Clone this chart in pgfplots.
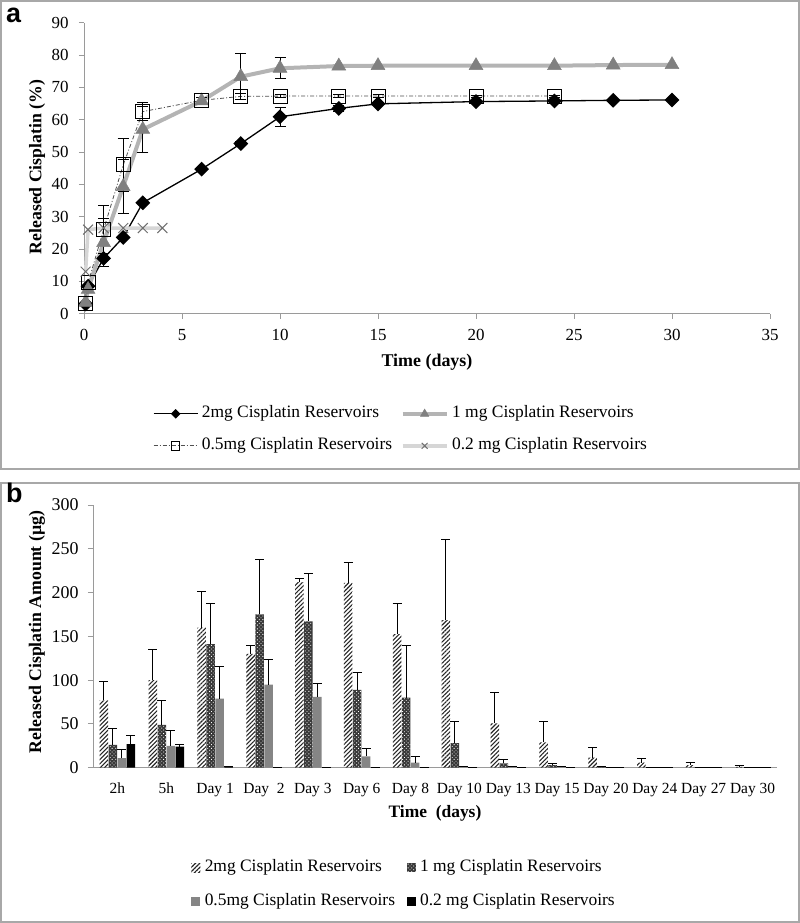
\documentclass[border=0pt]{standalone}
\usepackage{fontspec}
\setmainfont{Liberation Serif}
\newfontfamily\labfont{Liberation Sans}
\usepackage{pgfplots}
\usepackage{pgfplotstable}
\pgfplotsset{compat=1.18}
\usetikzlibrary{patterns,patterns.meta}
\definecolor{framegray}{HTML}{A8A8A8}
\definecolor{axgray}{HTML}{9A9A9A}
\definecolor{tri}{HTML}{808080}
\definecolor{triline}{HTML}{B4B4B4}
\definecolor{xline}{HTML}{D6D6D6}
\definecolor{xmark}{HTML}{6E6E6E}
\definecolor{barmid}{HTML}{858585}
\definecolor{dashline}{HTML}{505050}

% ---------- panel a data ----------
\pgfplotstableread{
x y
0.083 3.0
0.208 8.5
1 17.1
2 23.6
3 34.3
6 44.7
8 52.6
10 60.9
13 63.5
15 64.9
20 65.6
24 65.8
27 66.0
30 66.1
}\twomg
\pgfplotstableread{
x y
0.083 3.5
0.208 7.5
1 22.0
2 39.3
3 57.0
6 65.8
8 73.3
10 75.9
13 76.6
15 76.7
20 76.7
24 76.7
27 76.9
30 77.0
}\onemg
\pgfplotstableread{
x y
0.083 3.2
0.208 9.5
1 26.0
2 46.0
3 62.5
6 66.0
8 67.2
10 67.3
13 67.3
15 67.3
20 67.3
24 67.3
}\halfmg
\pgfplotstableread{
x y
0.083 13.0
0.208 26.0
1 26.5
2 26.5
3 26.5
4 26.5
}\fifthmg
\pgfplotstableread{
x y e
8 52.6 0.6
10 60.9 3.0
13 63.5 1.0
}\twomgerr
\pgfplotstableread{
x y e
1 22.0 7.5
2 39.3 8.3
3 57.0 7.0
8 73.3 7.2
10 75.9 3.3
}\onemgerr
\pgfplotstableread{
x y e
1 26.0 7.5
2 46.0 8.2
3 62.5 2.7
6 66.0 0.8
8 67.2 1.0
10 67.3 0.4
13 67.3 0.4
15 67.3 0.4
20 67.3 0.3
24 67.3 0.3
}\halfmgerr

% ---------- panel b data ----------
\pgfplotstableread{
x a ea b eb c ec d ed
0 77 21 26 19 11 10 27 10
1 100 35 49 28 25 17 24 3
2 160 41 141 46 79 37 1 0
3 130 10 175 63 95 29 0.5 0
4 212 4 167 55 81 15 0.5 0
5 211 23 89 20 13 9 0.5 0
6 152.5 35.5 80 60 5.7 7 0 0
7 168.5 92.5 28 24.5 1 0 0 0
8 50.5 35 5 4 1 0 0 0
9 29 23.5 3 1.5 1 0 0 0
10 11.4 11.6 1.5 0 0.5 0 0 0
11 5.7 4.3 0.5 0 0.3 0 0 0
12 3 2.7 0.3 0 0.2 0 0 0
13 1 1.7 0.3 0 0.2 0 0 0
}\bars

\pgfplotsset{
  errA/.style={draw=none, mark=none, forget plot,
    error bars/.cd, y dir=both, y explicit,
    error bar style={draw=black, solid, line width=1bp},
    error mark options={rotate=90, draw=black, solid, line width=1bp, mark size=5.5bp}},
  errB/.style={error bars/.cd, y dir=plus, y explicit,
    error bar style={draw=black, solid, line width=1bp},
    error mark options={rotate=90, draw=black, solid, line width=1bp, mark size=4.5bp}},
  barleg/.style={legend image code/.code={\path[##1] (0bp,-4.5bp) rectangle (9bp,4.5bp);}},
}

\begin{document}
\begin{tikzpicture}[x=1bp,y=1bp]
\path[use as bounding box] (0bp,0bp) rectangle (800bp,923bp);
\draw[framegray, line width=2bp] (1bp,454bp) rectangle (799bp,922bp);
\draw[framegray, line width=2bp] (1bp,1bp) rectangle (799bp,440bp);
\node[anchor=base west, inner sep=0pt, font=\labfont\fontsize{27}{27}\selectfont\bfseries] at (6bp,900bp) {a};
\node[anchor=base west, inner sep=0pt, font=\labfont\fontsize{27}{27}\selectfont\bfseries] at (6bp,420bp) {b};

% ================= panel a =================
\begin{axis}[
  at={(84bp,609.3bp)}, anchor=south west,
  scale only axis, width=686bp, height=291bp,
  xmin=0, xmax=35, ymin=0, ymax=90,
  xtick={0,5,...,35}, ytick={0,10,...,90},
  axis lines=left, axis line style={-, axgray, line width=1bp},
  tick style={axgray, line width=1bp}, tick align=outside, major tick length=5bp,
  /pgf/number format/assume math mode=true,
  tick label style={font=\fontsize{17}{17}\selectfont},
  xticklabel style={yshift=-7bp},
  yticklabel style={xshift=-7bp},
  clip=false,
  xlabel={Time (days)},
  xlabel style={at={(axis description cs:0.5,-0.166)}, anchor=center, font=\fontsize{18}{18}\selectfont\bfseries},
  ylabel={Released Cisplatin (\%)},
  ylabel style={at={(axis description cs:-0.0685,0.504)}, anchor=center, font=\fontsize{17.8}{17.8}\selectfont\bfseries},
  legend columns=2,
  legend cell align=left,
  legend style={draw=none, fill=none, at={(axis description cs:0.096,-0.304)}, anchor=north west,
    font=\fontsize{17.5}{17.5}\selectfont, row sep=13bp,
    nodes={inner sep=1.5bp, text height=12bp, text depth=4bp},
    /tikz/every odd column/.append style={column sep=2bp},
    /tikz/every even column/.append style={column sep=7bp}},
  legend image code/.code={\draw[#1, /tikz/every mark/.append style={scale=0.6}, mark repeat=2, mark phase=2] plot coordinates {(0bp,0bp) (22bp,0bp) (44bp,0bp)};},
]
\addplot[black, line width=1.3bp, mark=square*, mark size=4.6bp, mark options={rotate=45, fill=black, solid}] table[x=x,y=y]{\twomg};
\addlegendentry{2mg Cisplatin Reservoirs}
\addplot[triline, line width=4bp, mark=triangle*, mark size=8bp, mark options={fill=tri, draw=tri, line width=0.5bp, solid}] table[x=x,y=y]{\onemg};
\addlegendentry{1 mg Cisplatin Reservoirs}
\addplot[dashline, line width=0.8bp, dash pattern=on 4bp off 2bp on 1bp off 2bp, mark=square, mark size=7bp, mark options={draw=black, fill=white, line width=1bp, solid}] table[x=x,y=y]{\halfmg};
\addlegendentry{0.5mg Cisplatin Reservoirs}
\addplot[xline, line width=3.5bp, mark=x, mark size=7bp, mark options={draw=xmark, line width=1bp, solid}] table[x=x,y=y]{\fifthmg};
\addlegendentry{0.2 mg Cisplatin Reservoirs}
\addplot[errA] table[x=x,y=y,y error=e]{\twomgerr};
\addplot[errA] table[x=x,y=y,y error=e]{\onemgerr};
\addplot[errA] table[x=x,y=y,y error=e]{\halfmgerr};
\end{axis}

% ================= panel b =================
\begin{axis}[
  at={(93bp,155.3bp)}, anchor=south west,
  scale only axis, width=684bp, height=262.7bp,
  xmin=-0.5, xmax=13.5, ymin=0, ymax=300,
  ytick={0,50,...,300},
  xtick={0,1,...,13},
  xticklabels={2h,5h,Day 1,Day\ \ 2,Day 3,Day 6,Day 8,Day 10,Day 13,Day 15,Day 20,Day 24,Day 27,Day 30},
  minor xtick={-0.5,0.5,...,13.5},
  axis lines=left, axis line style={-, axgray, line width=1bp},
  tick style={axgray, line width=1bp}, tick align=outside,
  major tick length=5bp, minor tick length=5bp,
  xtick style={draw=none},
  minor tick style={axgray, line width=1bp},
  /pgf/number format/assume math mode=true,
  yticklabel style={font=\fontsize{18}{18}\selectfont, xshift=-6bp},
  xticklabel style={font=\fontsize{15.5}{15.5}\selectfont, yshift=-7bp},
  ybar=0.5bp, bar width=8.5bp,
  clip=false,
  xlabel={Time\ \ (days)},
  xlabel style={at={(axis description cs:0.5,-0.172)}, anchor=center, font=\fontsize{17.5}{17.5}\selectfont\bfseries},
  ylabel={Released Cisplatin Amount (\textmu g)},
  ylabel style={at={(axis description cs:-0.0819,0.517)}, anchor=center, font=\fontsize{17.8}{17.8}\selectfont\bfseries},
  legend columns=2,
  legend cell align=left,
  legend style={draw=none, fill=none, at={(axis description cs:0.139,-0.336)}, anchor=north west,
    font=\fontsize{17.5}{17.5}\selectfont, row sep=15bp,
    nodes={inner sep=1.5bp, text height=12bp, text depth=4bp},
    /tikz/every odd column/.append style={column sep=3bp},
    /tikz/every even column/.append style={column sep=10bp}},
  every axis plot post/.append style={barleg},
]
\addplot[draw=none, pattern={Lines[angle=45,distance=3bp,line width=1.1bp]}, pattern color=black!85, errB] table[x=x,y=a,y error=ea]{\bars};
\addlegendentry{2mg Cisplatin Reservoirs}
\addplot[draw=none, fill=black!78, postaction={pattern={Dots[angle=45,distance=2.6bp,radius=0.6bp]}, pattern color=white}, errB] table[x=x,y=b,y error=eb]{\bars};
\addlegendentry{1 mg Cisplatin Reservoirs}
\addplot[draw=none, fill=barmid, errB] table[x=x,y=c,y error=ec]{\bars};
\addlegendentry{0.5mg Cisplatin Reservoirs}
\addplot[draw=none, fill=black, errB] table[x=x,y=d,y error=ed]{\bars};
\addlegendentry{0.2 mg Cisplatin Reservoirs}
\end{axis}
\end{tikzpicture}
\end{document}
